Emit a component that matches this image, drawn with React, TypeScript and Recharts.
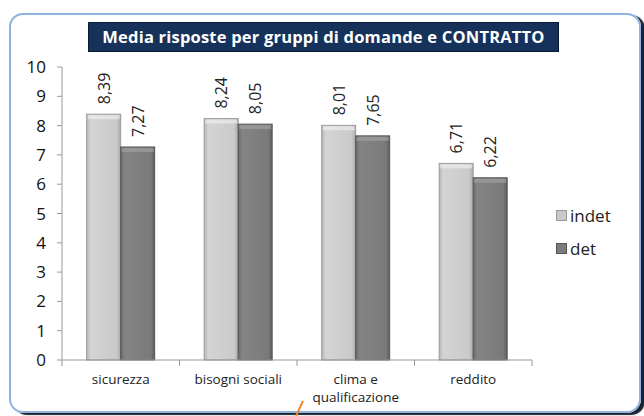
import { Bar, BarChart, LabelList, XAxis, YAxis } from "recharts";

const categories = ["sicurezza", "bisogni sociali", "clima e\nqualificazione", "reddito"];
const indet = [8.39, 8.24, 8.01, 6.71];
const det = [7.27, 8.05, 7.65, 6.22];
const yTicks = [0, 1, 2, 3, 4, 5, 6, 7, 8, 9, 10];
const seriesNames = ["indet", "det"];

const data = categories.map((name, i) => ({ name, indet: indet[i], det: det[i] }));

const FONT = "'Open Sans', 'Noto Sans', sans-serif";
const W = 644;
const H = 416;
const MARGIN = { top: 67, right: 112, bottom: 16, left: 22 };
const Y_W = 40;
const BAND = (W - MARGIN.left - MARGIN.right - Y_W) / categories.length;

const comma = (v: number) => v.toFixed(2).replace(".", ",");

function BevelBar(props: any) {
	const { x, y, width, height, fill, dark, light } = props;
	if (!height || height <= 0) return null;
	const id = fill === "indet" ? "gIndet" : "gDet";
	return (
		<g>
			<rect x={x} y={y} width={width} height={height} fill={`url(#${id})`} stroke={dark} strokeWidth={1} />
			<rect x={x + 1} y={y + 1} width={width - 2} height={4} fill={light} opacity={0.7} />
		</g>
	);
}

function RotLabel(props: any) {
	const { x, y, width, value } = props;
	const cx = x + width / 2;
	const cy = y - 10;
	return (
		<text
			x={cx}
			y={cy}
			transform={`rotate(-90 ${cx} ${cy})`}
			textAnchor="start"
			dominantBaseline="central"
			fontSize={16}
			fontFamily={FONT}
			fill="#222"
		>
			{comma(value)}
		</text>
	);
}

function CatTick(props: any) {
	const { x, y, payload, index } = props;
	const lines = String(payload.value).split("\n");
	return (
		<g>
			<line x1={x - BAND / 2} x2={x - BAND / 2} y1={y - 8} y2={y - 2} stroke="#999" />
			{index === categories.length - 1 && (
				<line x1={x + BAND / 2} x2={x + BAND / 2} y1={y - 8} y2={y - 2} stroke="#999" />
			)}
			<text x={x} y={y + 16} textAnchor="middle" fontSize={13.5} fontFamily={FONT} fill="#222">
				{lines.map((l, i) => (
					<tspan key={i} x={x} dy={i === 0 ? 0 : 18}>
						{l}
					</tspan>
				))}
			</text>
		</g>
	);
}

function LegendBox() {
	const colors = [
		{ c: "#c9c9c9", b: "#9a9a9a" },
		{ c: "#7c7c7c", b: "#555" },
	];
	return (
		<div style={{ position: "absolute", left: 556, top: 199, fontFamily: FONT, fontSize: 17, color: "#222" }}>
			{seriesNames.map((name, i) => (
				<div key={name} style={{ display: "flex", alignItems: "center", height: 33 }}>
					<span
						style={{
							display: "inline-block",
							width: 9,
							height: 9,
							background: colors[i].c,
							border: `1px solid ${colors[i].b}`,
							marginRight: 3,
						}}
					/>
					{name}
				</div>
			))}
		</div>
	);
}

export default function App() {
	return (
		<div style={{ position: "absolute", left: 0, top: 0, width: W, height: H, background: "#fff", overflow: "hidden" }}>
			<div
				style={{
					position: "absolute",
					left: 9,
					top: 13,
					width: 628,
					height: 396,
					border: "2px solid #8fb2de",
					borderRadius: 14,
					boxShadow: "4px 2px 1px #1b2230",
				}}
			/>
			<div
				style={{
					position: "absolute",
					left: 88,
					top: 22,
					width: 469,
					height: 28,
					background: "#17325a",
					border: "1px solid #0b1a33",
					color: "#fff",
					fontFamily: FONT,
					fontWeight: 700,
					fontSize: 16.5,
					lineHeight: "28px",
					textAlign: "center",
					letterSpacing: 0.2,
				}}
			>
				Media risposte per gruppi di domande e CONTRATTO
			</div>
			<div style={{ position: "absolute", left: 0, top: 0 }}>
				<BarChart width={W} height={H} data={data} margin={MARGIN} barCategoryGap="21%" barGap={0}>
					<defs>
						<linearGradient id="gIndet" x1="0" y1="0" x2="1" y2="0">
							<stop offset="0" stopColor="#b5b5b5" />
							<stop offset="0.12" stopColor="#d4d4d4" />
							<stop offset="0.88" stopColor="#cacaca" />
							<stop offset="1" stopColor="#a9a9a9" />
						</linearGradient>
						<linearGradient id="gDet" x1="0" y1="0" x2="1" y2="0">
							<stop offset="0" stopColor="#6a6a6a" />
							<stop offset="0.12" stopColor="#848484" />
							<stop offset="0.88" stopColor="#7a7a7a" />
							<stop offset="1" stopColor="#5e5e5e" />
						</linearGradient>
					</defs>
					<XAxis
						dataKey="name"
						stroke="#999"
						tickLine={false}
						tick={<CatTick />}
						interval={0}
						height={40}
					/>
					<YAxis
						domain={[0, 10]}
						ticks={yTicks}
						width={Y_W}
						stroke="#999"
						tickSize={5}
						tick={{ fill: "#111", fontSize: 17, fontFamily: FONT, dx: -9 }}
						interval={0}
					/>
					<Bar
						dataKey="indet"
						name="indet"
						isAnimationActive={false}
						shape={(p: any) => <BevelBar {...p} fill="indet" dark="#9c9c9c" light="#ececec" />}
					>
						<LabelList dataKey="indet" content={<RotLabel />} />
					</Bar>
					<Bar
						dataKey="det"
						name="det"
						isAnimationActive={false}
						shape={(p: any) => <BevelBar {...p} fill="det" dark="#555" light="#a0a0a0" />}
					>
						<LabelList dataKey="det" content={<RotLabel />} />
					</Bar>
				</BarChart>
			</div>
			<LegendBox />
			<svg style={{ position: "absolute", left: 0, top: 0 }} width={W} height={H}>
				<line x1={303} y1={401} x2={296} y2={416} stroke="#f0892c" strokeWidth={2} />
			</svg>
		</div>
	);
}
